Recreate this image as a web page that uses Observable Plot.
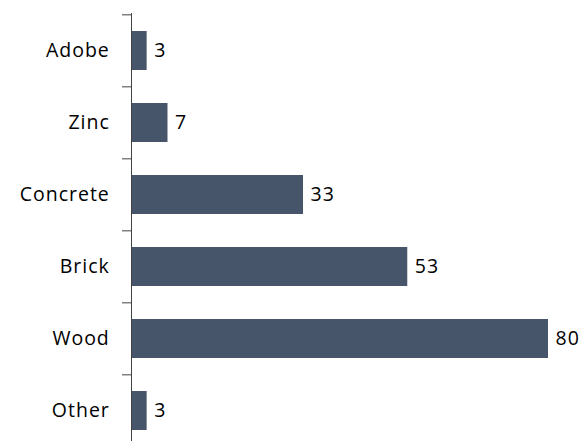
<!DOCTYPE html>
<html>
<head>
<meta charset="utf-8">
<script src="https://cdn.jsdelivr.net/npm/d3@7"></script>
<script src="https://cdn.jsdelivr.net/npm/@observablehq/plot@0.6"></script>
<style>
  body { margin: 0; background: #fff; }
  #chart svg { display: block; }
  #chart svg text { letter-spacing: 1px; }
</style>
</head>
<body>
<div id="chart"></div>
<script>
const categories = ["Adobe", "Zinc", "Concrete", "Brick", "Wood", "Other"];
const values = [3, 7, 33, 53, 80, 3];

const data = categories.map((c, i) => ({category: c, value: values[i]}));

const step = (447 - 13) / categories.length;

const chart = Plot.plot({
  width: 583,
  height: 441,
  marginLeft: 131,
  marginRight: 35,
  marginTop: 13,
  marginBottom: 0,
  style: {fontFamily: "'Open Sans', sans-serif", fontSize: "19.5px", color: "#000", background: "#fff"},
  x: {domain: [0, 80], axis: null},
  y: {domain: categories, range: [13, 447], paddingInner: 0.46, paddingOuter: 0.23, axis: null},
  marks: [
    Plot.barX(data, {y: "category", x: "value", fill: "#465569"}),
    Plot.text(data, {y: "category", x: "value", text: d => String(d.value), textAnchor: "start", dx: 7, fill: "#000", fontSize: 19.5}),
    Plot.axisY({tickSize: 0, tickPadding: 21.7, fontSize: 19.5, label: null}),
    Plot.ruleY(categories, {y: d => d, x1: 0, x2: 0, insetLeft: -9, dy: -step / 2, stroke: "#444", strokeWidth: 1}),
    Plot.ruleX([0], {stroke: "#444", strokeWidth: 1})
  ]
});
document.getElementById("chart").append(chart);
</script>
</body>
</html>
